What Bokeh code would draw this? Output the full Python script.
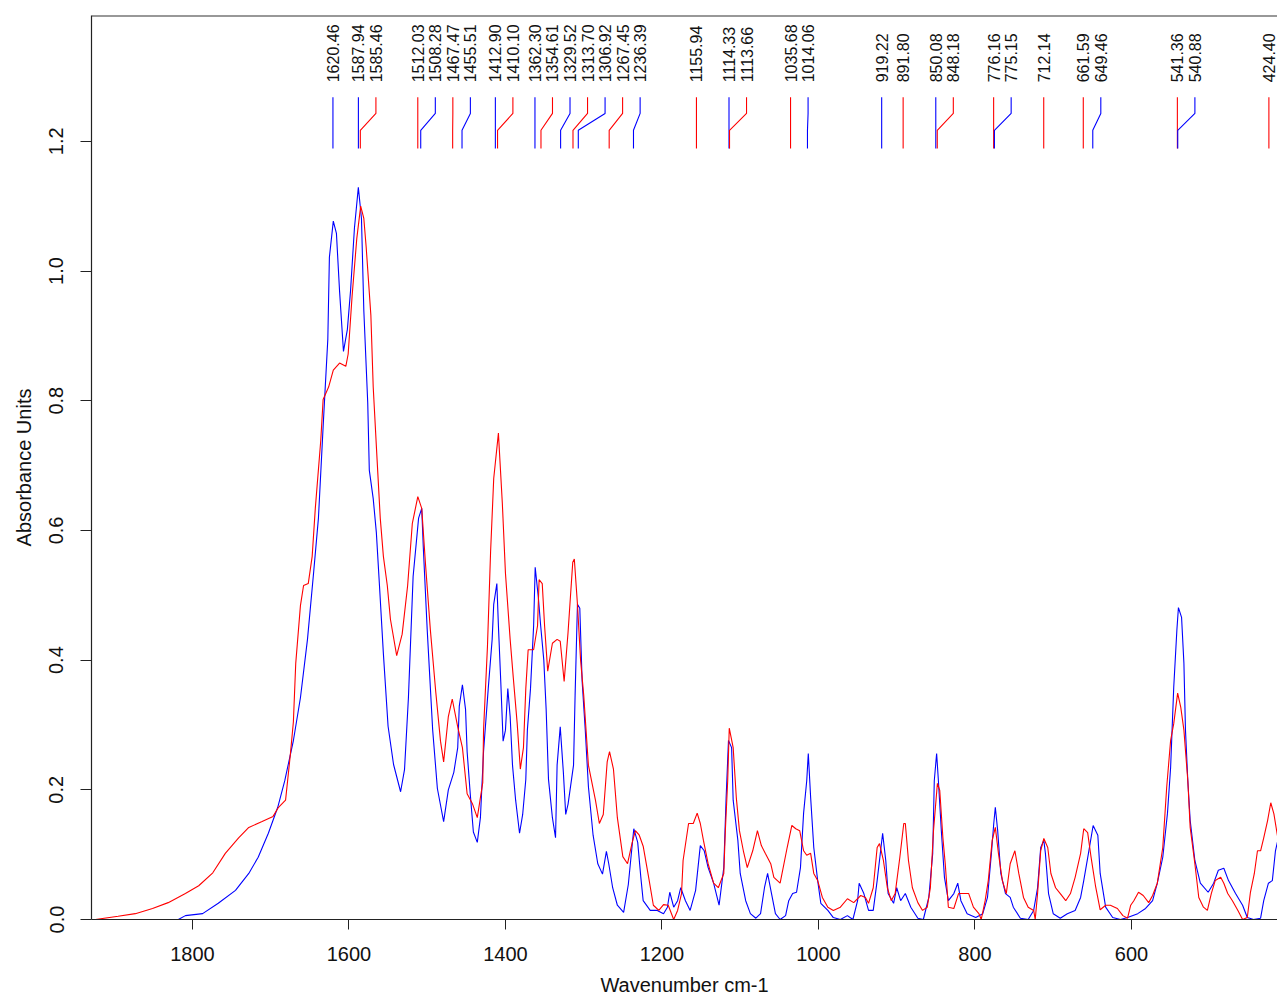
import math
from bokeh.plotting import figure
from bokeh.models import Range1d, FixedTicker, PrintfTickFormatter, Span
from bokeh.embed import file_html
from bokeh.resources import INLINE
from bokeh.core.properties import value

# ---------------- data ----------------
red_wn = [1926, 1924, 1895, 1873, 1851, 1831, 1809, 1792, 1774, 1758,
          1741, 1728, 1711, 1697, 1690, 1681, 1675, 1671, 1668, 1662,
          1658, 1652, 1647, 1643, 1636, 1633, 1626, 1620, 1612, 1604,
          1601, 1596, 1590, 1585, 1581, 1578, 1572, 1569, 1564, 1560,
          1556, 1551, 1547, 1539, 1532, 1525, 1519, 1512, 1507, 1502,
          1496, 1489, 1483, 1479, 1473, 1468, 1461, 1455, 1449, 1442,
          1436, 1429, 1428, 1423, 1419, 1415, 1409, 1404, 1400, 1394,
          1390, 1385, 1381, 1377, 1374, 1371, 1364, 1359, 1357, 1353,
          1350, 1346, 1340, 1334, 1330, 1325, 1320, 1314, 1312, 1308,
          1304, 1300, 1294, 1285, 1280, 1275, 1270, 1267, 1262, 1257,
          1250, 1244, 1238, 1234, 1229, 1224, 1217, 1211, 1204, 1198,
          1192, 1185, 1180, 1175, 1173, 1166, 1160, 1155, 1151, 1147,
          1141, 1134, 1128, 1121, 1119, 1116, 1114, 1109, 1105, 1101,
          1096, 1091, 1084, 1078, 1073, 1068, 1061, 1057, 1049, 1040,
          1034, 1029, 1024, 1019, 1015, 1010, 1006, 1001, 995, 988,
          981, 972, 963, 955, 946, 940, 936, 930, 925, 922,
          917, 912, 907, 902, 896, 891, 889, 885, 880, 873,
          867, 861, 857, 853, 848, 845, 841, 838, 834, 827,
          821, 815, 808, 802, 795, 792, 787, 783, 778, 774,
          770, 765, 760, 755, 749, 744, 738, 732, 725, 723,
          720, 716, 712, 707, 703, 697, 691, 684, 678, 672,
          665, 661, 656, 652, 646, 640, 633, 627, 618, 611,
          605, 601, 597, 591, 585, 578, 573, 567, 560, 555,
          550, 546, 541, 537, 533, 528, 525, 519, 514, 508,
          503, 498, 493, 486, 482, 477, 471, 464, 458, 452,
          448, 443, 439, 435, 431, 426, 422, 418, 413]
red_ab = [0.000, 0.000, 0.005, 0.009, 0.017, 0.026, 0.040, 0.052, 0.072, 0.102,
          0.126, 0.142, 0.151, 0.159, 0.173, 0.184, 0.253, 0.305, 0.395, 0.484,
          0.515, 0.518, 0.560, 0.634, 0.739, 0.802, 0.821, 0.847, 0.858, 0.853,
          0.872, 0.961, 1.050, 1.100, 1.081, 1.037, 0.932, 0.821, 0.708, 0.619,
          0.560, 0.515, 0.463, 0.407, 0.440, 0.515, 0.611, 0.652, 0.634, 0.545,
          0.447, 0.350, 0.275, 0.243, 0.313, 0.340, 0.297, 0.265, 0.194, 0.178,
          0.157, 0.211, 0.292, 0.421, 0.567, 0.680, 0.750, 0.642, 0.534, 0.432,
          0.373, 0.302, 0.232, 0.265, 0.356, 0.416, 0.416, 0.453, 0.524, 0.518,
          0.453, 0.383, 0.426, 0.432, 0.429, 0.367, 0.443, 0.551, 0.556, 0.486,
          0.400, 0.346, 0.238, 0.184, 0.148, 0.162, 0.243, 0.259, 0.232, 0.157,
          0.097, 0.086, 0.119, 0.137, 0.130, 0.113, 0.065, 0.022, 0.014, 0.023,
          0.022, 0.000, 0.014, 0.040, 0.091, 0.148, 0.148, 0.164, 0.148, 0.122,
          0.086, 0.056, 0.049, 0.071, 0.137, 0.214, 0.295, 0.265, 0.188, 0.137,
          0.106, 0.080, 0.106, 0.137, 0.114, 0.102, 0.086, 0.065, 0.056, 0.111,
          0.145, 0.140, 0.137, 0.106, 0.099, 0.102, 0.071, 0.060, 0.034, 0.019,
          0.014, 0.019, 0.032, 0.026, 0.037, 0.034, 0.025, 0.049, 0.111, 0.117,
          0.091, 0.049, 0.029, 0.040, 0.096, 0.148, 0.148, 0.091, 0.049, 0.026,
          0.014, 0.019, 0.049, 0.137, 0.210, 0.199, 0.126, 0.086, 0.019, 0.017,
          0.040, 0.040, 0.040, 0.019, 0.009, 0.000, 0.029, 0.060, 0.122, 0.142,
          0.102, 0.060, 0.040, 0.086, 0.106, 0.071, 0.034, 0.019, 0.014, 0.000,
          0.040, 0.106, 0.125, 0.111, 0.071, 0.049, 0.040, 0.029, 0.040, 0.065,
          0.102, 0.140, 0.134, 0.099, 0.052, 0.015, 0.022, 0.022, 0.017, 0.006,
          0.002, 0.022, 0.029, 0.042, 0.037, 0.026, 0.037, 0.056, 0.111, 0.204,
          0.276, 0.302, 0.349, 0.327, 0.292, 0.214, 0.142, 0.086, 0.034, 0.019,
          0.014, 0.040, 0.060, 0.065, 0.056, 0.040, 0.029, 0.014, 0.000, 0.003,
          0.042, 0.071, 0.106, 0.106, 0.126, 0.153, 0.180, 0.163, 0.126]

blue_wn = [1924, 1818, 1809, 1787, 1767, 1745, 1728, 1716, 1703, 1691,
           1682, 1679, 1671, 1662, 1653, 1645, 1639, 1633, 1627, 1625,
           1620, 1616, 1612, 1607, 1602, 1598, 1593, 1588, 1584, 1581,
           1576, 1574, 1569, 1565, 1561, 1556, 1550, 1543, 1534, 1529,
           1524, 1518, 1511, 1507, 1505, 1500, 1493, 1487, 1479, 1473,
           1466, 1461, 1459, 1455, 1451, 1449, 1445, 1441, 1436, 1432,
           1428, 1422, 1417, 1415, 1411, 1409, 1406, 1403, 1400, 1397,
           1394, 1391, 1387, 1382, 1378, 1374, 1372, 1368, 1364, 1362,
           1358, 1355, 1351, 1348, 1345, 1340, 1336, 1334, 1330, 1326,
           1323, 1320, 1313, 1311, 1308, 1305, 1302, 1298, 1294, 1288,
           1282, 1276, 1271, 1268, 1263, 1257, 1249, 1243, 1236, 1231,
           1227, 1224, 1215, 1206, 1198, 1193, 1190, 1185, 1180, 1176,
           1170, 1164, 1157, 1151, 1146, 1141, 1134, 1127, 1121, 1118,
           1115, 1111, 1109, 1103, 1100, 1093, 1087, 1080, 1074, 1069,
           1065, 1060, 1055, 1049, 1042, 1038, 1033, 1028, 1023, 1019,
           1015, 1013, 1010, 1006, 1001, 997, 988, 981, 972, 963,
           956, 950, 948, 942, 936, 930, 925, 918, 914, 911,
           904, 900, 895, 889, 882, 873, 866, 859, 854, 852,
           849, 847, 843, 839, 834, 827, 822, 818, 810, 799,
           790, 784, 779, 776, 774, 771, 767, 761, 755, 751,
           742, 732, 725, 720, 716, 712, 710, 706, 700, 691,
           682, 672, 665, 661, 655, 649, 643, 640, 633, 624,
           614, 605, 592, 582, 573, 567, 560, 554, 550, 546,
           542, 540, 536, 533, 531, 528, 525, 519, 512, 502,
           495, 489, 482, 476, 467, 458, 452, 444, 435, 431,
           425, 420, 416, 413]
blue_ab = [0.000, 0.000, 0.006, 0.009, 0.025, 0.045, 0.071, 0.096, 0.133, 0.173,
           0.214, 0.231, 0.276, 0.342, 0.432, 0.537, 0.619, 0.760, 0.895, 1.021,
           1.077, 1.058, 0.969, 0.876, 0.910, 0.969, 1.066, 1.129, 1.081, 0.939,
           0.797, 0.693, 0.649, 0.597, 0.515, 0.410, 0.298, 0.239, 0.197, 0.231,
           0.342, 0.529, 0.619, 0.634, 0.574, 0.447, 0.292, 0.202, 0.151, 0.200,
           0.227, 0.265, 0.329, 0.362, 0.324, 0.259, 0.194, 0.135, 0.119, 0.157,
           0.259, 0.356, 0.432, 0.486, 0.518, 0.453, 0.367, 0.275, 0.292, 0.356,
           0.313, 0.238, 0.184, 0.133, 0.162, 0.216, 0.292, 0.356, 0.453, 0.543,
           0.497, 0.453, 0.400, 0.324, 0.216, 0.157, 0.126, 0.238, 0.297, 0.227,
           0.162, 0.178, 0.238, 0.346, 0.486, 0.480, 0.367, 0.292, 0.205, 0.130,
           0.086, 0.070, 0.105, 0.086, 0.049, 0.022, 0.011, 0.054, 0.140, 0.119,
           0.065, 0.029, 0.014, 0.014, 0.009, 0.019, 0.042, 0.019, 0.029, 0.049,
           0.029, 0.014, 0.045, 0.114, 0.106, 0.080, 0.056, 0.022, 0.080, 0.188,
           0.276, 0.265, 0.184, 0.122, 0.071, 0.029, 0.009, 0.002, 0.009, 0.049,
           0.071, 0.040, 0.009, 0.000, 0.006, 0.029, 0.040, 0.042, 0.080, 0.164,
           0.214, 0.256, 0.188, 0.111, 0.060, 0.025, 0.014, 0.003, 0.000, 0.006,
           0.000, 0.029, 0.056, 0.040, 0.014, 0.014, 0.060, 0.133, 0.091, 0.040,
           0.025, 0.049, 0.029, 0.040, 0.019, 0.002, 0.000, 0.034, 0.102, 0.214,
           0.256, 0.219, 0.137, 0.065, 0.029, 0.040, 0.056, 0.029, 0.009, 0.003,
           0.009, 0.034, 0.102, 0.148, 0.173, 0.137, 0.071, 0.040, 0.034, 0.019,
           0.002, 0.000, 0.014, 0.049, 0.111, 0.122, 0.102, 0.040, 0.009, 0.002,
           0.009, 0.014, 0.034, 0.060, 0.102, 0.145, 0.130, 0.071, 0.019, 0.003,
           0.000, 0.003, 0.009, 0.017, 0.029, 0.056, 0.096, 0.164, 0.234, 0.358,
           0.446, 0.481, 0.466, 0.395, 0.292, 0.214, 0.153, 0.091, 0.056, 0.042,
           0.056, 0.076, 0.079, 0.060, 0.040, 0.022, 0.003, 0.000, 0.002, 0.029,
           0.056, 0.060, 0.106, 0.122]

peak_wn = [1620.46, 1587.94, 1585.46, 1512.03, 1508.28, 1467.47, 1455.51,
           1412.90, 1410.10, 1362.30, 1354.61, 1329.52, 1313.70, 1306.92,
           1267.45, 1236.39, 1155.94, 1114.33, 1113.66, 1035.68, 1014.06,
           919.22, 891.80, 850.08, 848.18, 776.16, 775.15, 712.14, 661.59,
           649.46, 541.36, 540.88, 424.40]
peak_series = ["blue", "blue", "red", "red", "blue", "red", "blue",
               "blue", "red", "blue", "red", "blue", "red", "blue",
               "red", "blue", "red", "blue", "red", "red", "blue",
               "blue", "red", "blue", "red", "red", "blue", "red", "red",
               "blue", "red", "blue", "red"]

x_ticks = [1800, 1600, 1400, 1200, 1000, 800, 600]
y_ticks = [0.0, 0.2, 0.4, 0.6, 0.8, 1.0, 1.2]

# ---------------- styling ----------------
COL = {"red": "#FF0000", "blue": "#0000FF"}
FONT = "Liberation Sans"

p = figure(width=1277, height=1001,
           x_range=Range1d(1929, 413.4), y_range=Range1d(0, 1.394),
           output_backend="svg", toolbar_location=None,
           min_border_left=91, min_border_right=0,
           min_border_top=15, min_border_bottom=82)
p.outline_line_color = None
p.grid.visible = False
p.background_fill_color = "white"
p.border_fill_color = "white"

# spectra
p.line(blue_wn, blue_ab, line_color=COL["blue"], line_width=1.1)
p.line(red_wn, red_ab, line_color=COL["red"], line_width=1.1)

# peak label layout: spread labels so they don't overlap
gap = 22.4
label_x = []
prev = None
for w in peak_wn:
    lx = w if prev is None else min(w, prev - gap)
    label_x.append(lx)
    prev = lx

y_top, y_bend1, y_bend2, y_bot, y_text = 1.268, 1.243, 1.217, 1.189, 1.291
xs, ys, cols = [], [], []
for w, lx, s in zip(peak_wn, label_x, peak_series):
    xs.append([lx, lx, w, w])
    ys.append([y_top, y_bend1, y_bend2, y_bot])
    cols.append(COL[s])
p.multi_line(xs, ys, line_color=cols, line_width=1.1)

p.text(x=label_x, y=[y_text] * len(peak_wn),
       text=[f"{w:.2f}" for w in peak_wn],
       angle=math.pi / 2, text_align="left", text_baseline="middle",
       text_font=value(FONT), text_font_size="16px", text_color="#111111")

# top border of the box
p.add_layout(Span(location=1.394, dimension="width", line_color="#333333", line_width=2))

# axes
for ax in (p.xaxis, p.yaxis):
    ax.axis_line_color = "#222222"
    ax.axis_line_width = 1.2
    ax.major_tick_line_color = "#222222"
    ax.major_tick_in = 0
    ax.minor_tick_line_color = None
    ax.major_label_text_font = FONT
    ax.major_label_text_font_size = "20px"
    ax.major_label_text_color = "#111111"
    ax.axis_label_text_font = FONT
    ax.axis_label_text_font_size = "20px"
    ax.axis_label_text_font_style = "normal"
    ax.axis_label_text_color = "#111111"

p.xaxis.ticker = FixedTicker(ticks=x_ticks)
p.xaxis.major_tick_out = 10
p.xaxis.major_label_standoff = 17
p.xaxis.axis_label = "Wavenumber cm-1"
p.xaxis.axis_label_standoff = 10

p.yaxis.ticker = FixedTicker(ticks=y_ticks)
p.yaxis.formatter = PrintfTickFormatter(format="%.1f")
p.yaxis.major_tick_out = 11
p.yaxis.major_label_orientation = "vertical"
p.yaxis.major_label_standoff = 17
p.yaxis.axis_label = "Absorbance Units"
p.yaxis.axis_label_standoff = 12

open("out.html", "w").write(file_html(p, INLINE))
